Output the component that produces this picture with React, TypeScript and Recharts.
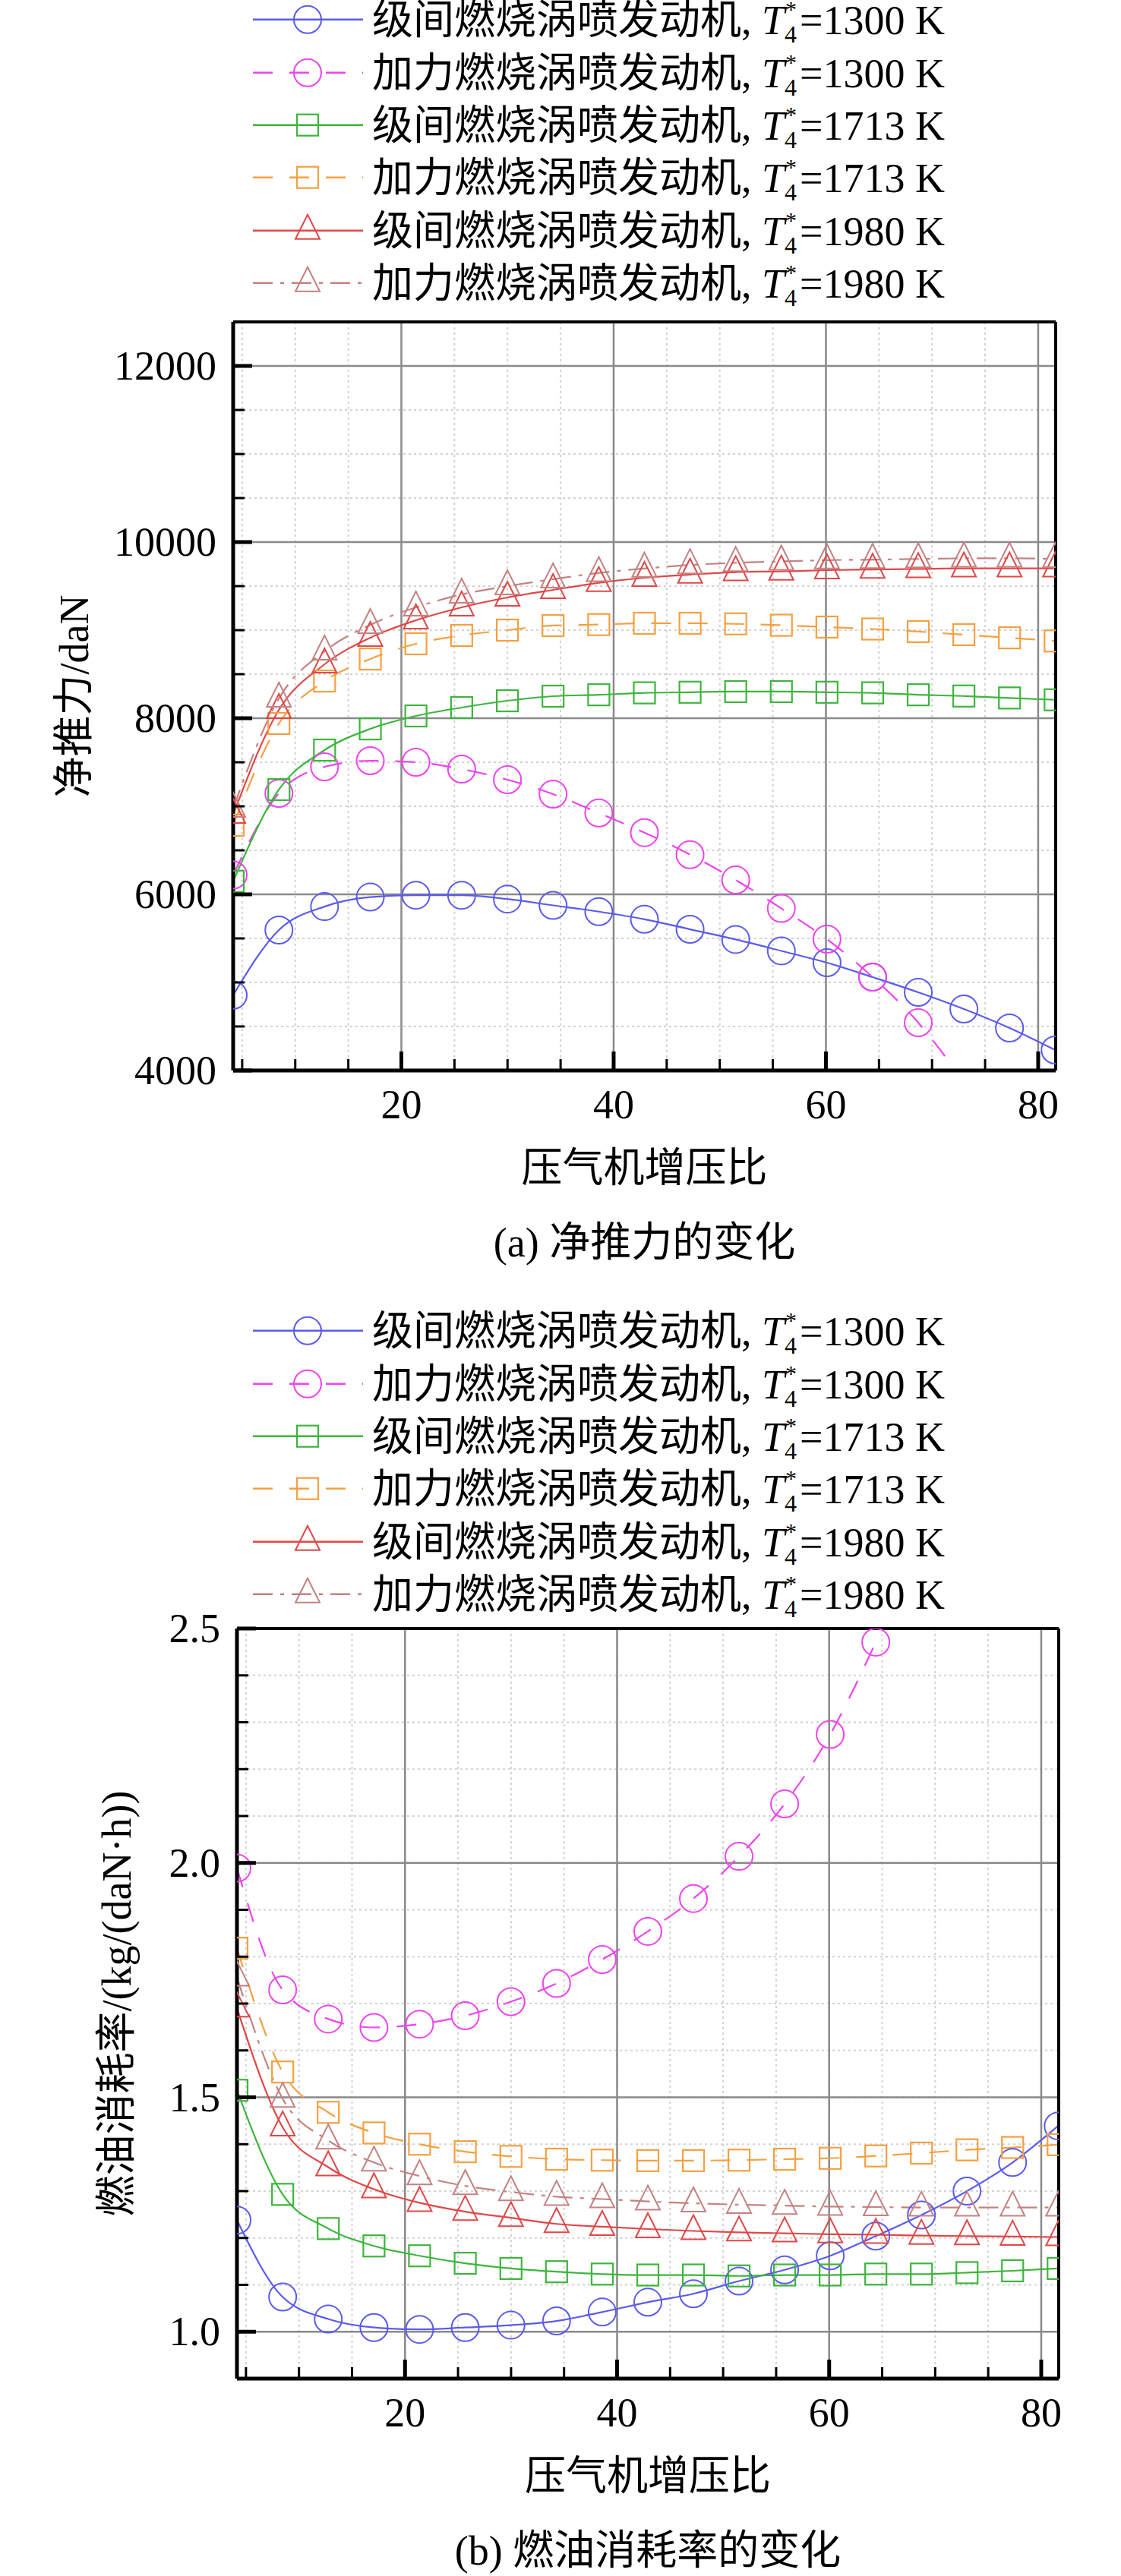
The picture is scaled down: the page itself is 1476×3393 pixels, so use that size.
import React from 'react';
import { LineChart, Line, XAxis, YAxis, CartesianGrid, Legend } from 'recharts';

// compressor pressure ratio (x of every point)
const pressureRatio = [4.15, 8.46, 12.76, 17.07, 21.37, 25.68, 29.99, 34.29, 38.6, 42.9, 47.2, 51.5, 55.8, 60.1, 64.4, 68.7, 73.0, 77.3, 81.6];

// (a) net thrust, daN
const thrustInter1300 = [4856, 5595, 5861, 5969, 5990, 5990, 5947, 5875, 5804, 5717, 5603, 5488, 5358, 5224, 5060, 4888, 4698, 4483, 4233];
const thrustAb1300 = [6220, 7147, 7448, 7517, 7500, 7422, 7302, 7138, 6924, 6701, 6450, 6163, 5840, 5491, 5060, 4543, 3870];
const thrustInter1713 = [6148, 7190, 7638, 7879, 8026, 8121, 8198, 8250, 8266, 8288, 8295, 8302, 8302, 8295, 8288, 8266, 8252, 8230, 8209];
const thrustAb1713 = [6785, 7940, 8422, 8672, 8845, 8940, 9000, 9052, 9063, 9078, 9078, 9071, 9056, 9035, 9013, 8984, 8949, 8913, 8877];
const thrustInter1980 = [6905, 8095, 8612, 8914, 9112, 9259, 9371, 9457, 9537, 9595, 9631, 9659, 9667, 9681, 9688, 9695, 9702, 9702, 9702];
const thrustAb1980 = [6974, 8224, 8759, 9060, 9259, 9405, 9500, 9578, 9650, 9700, 9740, 9765, 9780, 9795, 9800, 9808, 9815, 9815, 9810];

// (b) specific fuel consumption, kg/(daN·h)
const sfcInter1300 = [1.238, 1.074, 1.027, 1.009, 1.005, 1.009, 1.014, 1.023, 1.042, 1.063, 1.081, 1.108, 1.132, 1.162, 1.204, 1.249, 1.3, 1.361, 1.439];
const sfcAb1300 = [1.989, 1.729, 1.667, 1.649, 1.656, 1.674, 1.704, 1.743, 1.794, 1.854, 1.924, 2.014, 2.126, 2.274, 2.471];
const sfcInter1713 = [1.515, 1.293, 1.22, 1.183, 1.162, 1.146, 1.135, 1.128, 1.123, 1.121, 1.121, 1.119, 1.121, 1.121, 1.123, 1.123, 1.126, 1.13, 1.135];
const sfcAb1713 = [1.818, 1.554, 1.468, 1.424, 1.4, 1.384, 1.374, 1.368, 1.366, 1.365, 1.365, 1.366, 1.368, 1.37, 1.375, 1.381, 1.388, 1.393, 1.399];
const sfcInter1980 = [1.69, 1.436, 1.351, 1.304, 1.275, 1.256, 1.243, 1.23, 1.224, 1.219, 1.215, 1.212, 1.21, 1.208, 1.207, 1.205, 1.204, 1.203, 1.202];
const sfcAb1980 = [1.756, 1.497, 1.408, 1.361, 1.332, 1.311, 1.298, 1.288, 1.283, 1.278, 1.274, 1.271, 1.269, 1.267, 1.266, 1.265, 1.265, 1.265, 1.265];

// ticks
const xMinorTicks = [5, 10, 15, 20, 25, 30, 35, 40, 45, 50, 55, 60, 65, 70, 75, 80];
const xMajorTicks = [20, 40, 60, 80];
const thrustMinorTicks = [4000, 4500, 5000, 5500, 6000, 6500, 7000, 7500, 8000, 8500, 9000, 9500, 10000, 10500, 11000, 11500, 12000];
const thrustMajorTicks = [4000, 6000, 8000, 10000, 12000];
const sfcMinorTicks = [0.9, 1.0, 1.1, 1.2, 1.3, 1.4, 1.5, 1.6, 1.7, 1.8, 1.9, 2.0, 2.1, 2.2, 2.3, 2.4, 2.5];
const sfcMajorTicks = [1.0, 1.5, 2.0, 2.5];

const seriesNames = ['级间燃烧涡喷发动机', '加力燃烧涡喷发动机', '级间燃烧涡喷发动机', '加力燃烧涡喷发动机', '级间燃烧涡喷发动机', '加力燃烧涡喷发动机'];
const seriesTemps = ['1300', '1300', '1713', '1713', '1980', '1980'];
const seriesKeys = ['inter1300', 'ab1300', 'inter1713', 'ab1713', 'inter1980', 'ab1980'];

const STYLES = [
  { color: '#5b5bef', dash: undefined, shape: 'circle' },
  { color: '#ee44ee', dash: '26 22', shape: 'circle' },
  { color: '#3db53d', dash: undefined, shape: 'square' },
  { color: '#f5a040', dash: '26 22', shape: 'square' },
  { color: '#e04848', dash: undefined, shape: 'triangle' },
  { color: '#c48282', dash: '26 10 5 10', shape: 'triangle' },
];

const FONT = '"Liberation Serif", "Times New Roman", "Noto Sans CJK SC", serif';
const FS = 54;
const X_DOMAIN = [4.15, 81.65];

const buildRows = (cols: number[][]) =>
  pressureRatio.map((p, i) => {
    const row: any = { p };
    seriesKeys.forEach((k, j) => {
      if (cols[j][i] !== undefined) row[k] = cols[j][i];
    });
    return row;
  });

const thrustRows = buildRows([thrustInter1300, thrustAb1300, thrustInter1713, thrustAb1713, thrustInter1980, thrustAb1980]);
const sfcRows = buildRows([sfcInter1300, sfcAb1300, sfcInter1713, sfcAb1713, sfcInter1980, sfcAb1980]);

const Marker = ({ cx, cy, shape, color }: any) => {
  if (shape === 'circle') return <circle cx={cx} cy={cy} r={18} fill="none" stroke={color} strokeWidth={2} />;
  if (shape === 'square') return <rect x={cx - 14} y={cy - 14} width={28} height={28} fill="none" stroke={color} strokeWidth={2.2} />;
  return <polygon points={`${cx},${cy - 21} ${cx - 16},${cy + 11} ${cx + 16},${cy + 11}`} fill="none" stroke={color} strokeWidth={2} />;
};

const makeDot = (shape: string, color: string, min: number, max: number) => (props: any) => {
  const { cx, cy, index, value } = props;
  if (cx == null || cy == null || value == null || value < min || value > max) return <g key={`d${index}`} />;
  return <Marker key={`d${index}`} cx={cx} cy={cy} shape={shape} color={color} />;
};

const XTick = (props: any) => {
  const { x, y, payload } = props;
  const major = xMajorTicks.includes(payload.value);
  return (
    <g>
      <line x1={x} x2={x} y1={y} y2={y - (major ? 25 : 15)} stroke="#000" strokeWidth={major ? 5 : 3} />
      {major && (
        <text x={x} y={y + 45} textAnchor="middle" dominantBaseline="central" fontSize={FS} fontFamily={FONT} fill="#000">
          {payload.value}
        </text>
      )}
    </g>
  );
};

const makeYTick = (majors: number[], fmt: (v: number) => string) => (props: any) => {
  const { x, y, payload } = props;
  const major = majors.some((m) => Math.abs(m - payload.value) < 1e-6);
  return (
    <g>
      <line x1={x} x2={x + (major ? 25 : 15)} y1={y} y2={y} stroke="#000" strokeWidth={major ? 5 : 3} />
      {major && (
        <text x={x - 22} y={y} textAnchor="end" dominantBaseline="central" fontSize={FS} fontFamily={FONT} fill="#000">
          {fmt(payload.value)}
        </text>
      )}
    </g>
  );
};

const XTitle = ({ viewBox, title, caption }: any) => {
  const vb = viewBox || { x: 310, y: 1410, width: 1080 };
  const cx = vb.x + vb.width / 2;
  return (
    <g fontFamily={FONT} fontSize={FS} fill="#000">
      <text x={cx} y={vb.y + 129} textAnchor="middle" dominantBaseline="central">{title}</text>
      <text x={cx} y={vb.y + 227} textAnchor="middle" dominantBaseline="central">{caption}</text>
    </g>
  );
};

const YTitle = ({ viewBox, title, dx }: any) => {
  const vb = viewBox || { x: 310, y: 424, width: 0, height: 986 };
  const cx = vb.x + vb.width - dx;
  const cy = vb.y + vb.height / 2;
  return (
    <text x={cx} y={cy} transform={`rotate(-90 ${cx} ${cy})`} textAnchor="middle" dominantBaseline="central" fontSize={FS} fontFamily={FONT} fill="#000">
      {title}
    </text>
  );
};

const ROW_H = 69.4;

const LegendBox = ({ top }: { top: number }) => (
  <div style={{ position: 'absolute', top, left: 0, width: 1476, fontFamily: FONT, color: '#000' }}>
    {seriesNames.map((name, i) => {
      const s = STYLES[i];
      return (
        <div key={i} style={{ position: 'relative', height: ROW_H }}>
          <svg width={170} height={ROW_H} style={{ position: 'absolute', left: 325, top: 0 }}>
            <line x1={8} x2={153} y1={ROW_H / 2} y2={ROW_H / 2} stroke={s.color} strokeWidth={2.5} strokeDasharray={s.dash} />
            <Marker cx={80} cy={ROW_H / 2} shape={s.shape} color={s.color} />
          </svg>
          <span style={{ position: 'absolute', left: 490, top: 0, fontSize: FS, lineHeight: `${ROW_H}px`, whiteSpace: 'nowrap' }}>
            {name}, <i>T</i>
            <span style={{ position: 'relative', display: 'inline-block', width: 20, height: FS }}>
              <span style={{ position: 'absolute', left: 1, top: 6, fontSize: 30, lineHeight: 1 }}>*</span>
              <span style={{ position: 'absolute', left: 0, top: 38, fontSize: 32, lineHeight: 1 }}>4</span>
            </span>
            ={seriesTemps[i]} K
          </span>
        </div>
      );
    })}
  </div>
);

const Panel = ({ top, height, margin, rows, yDomain, yMinor, yMajor, fmt, yTitle, yTitleDx, xTitle, caption, legendTop }: any) => {
  const YTick = makeYTick(yMajor, fmt);
  return (
    <div style={{ position: 'absolute', top, left: 0, width: 1476, height }}>
      <LineChart width={1476} height={height} data={rows} margin={margin}>
        <Legend
          layout="vertical"
          align="center"
          verticalAlign="middle"
          wrapperStyle={{ top: 0, left: 0, width: 1476, height: 0 }}
          content={() => <LegendBox top={legendTop} />}
        />
        <CartesianGrid xAxisId="x" yAxisId="y" stroke="#d2d2d2" strokeWidth={2} strokeDasharray="3 4" />
        <CartesianGrid xAxisId="x" yAxisId="y" stroke="#8a8a8a" strokeWidth={2.5}
          verticalValues={xMajorTicks} horizontalValues={yMajor} />
        <XAxis xAxisId="x" dataKey="p" type="number" domain={X_DOMAIN} allowDataOverflow ticks={xMinorTicks} interval={0}
          height={1} tickSize={0} tickMargin={0} tickLine={false} tick={<XTick />}
          axisLine={{ stroke: '#000', strokeWidth: 5 }}
          label={<XTitle title={xTitle} caption={caption} />} />
        <XAxis xAxisId="top" orientation="top" type="number" domain={X_DOMAIN} allowDataOverflow height={1}
          tick={false} tickLine={false} axisLine={{ stroke: '#000', strokeWidth: 4 }} />
        <YAxis yAxisId="y" type="number" domain={yDomain} allowDataOverflow ticks={yMinor} interval={0}
          width={1} tickSize={0} tickMargin={0} tickLine={false} tick={<YTick />}
          axisLine={{ stroke: '#000', strokeWidth: 5 }}
          label={<YTitle title={yTitle} dx={yTitleDx} />} />
        <YAxis yAxisId="right" orientation="right" type="number" domain={yDomain} allowDataOverflow width={1}
          tick={false} tickLine={false} axisLine={{ stroke: '#000', strokeWidth: 4 }} />
        {seriesKeys.map((k, i) => (
          <Line
            key={k}
            xAxisId="x"
            yAxisId="y"
            dataKey={k}
            name={seriesNames[i]}
            type="monotone"
            stroke={STYLES[i].color}
            strokeWidth={2.2}
            strokeDasharray={STYLES[i].dash}
            dot={makeDot(STYLES[i].shape, STYLES[i].color, yDomain[0], yDomain[1])}
            activeDot={false}
            isAnimationActive={false}
          />
        ))}
      </LineChart>
    </div>
  );
};

export default function App() {
  return (
    <div style={{ position: 'absolute', top: 0, left: 0, width: 1476, height: 3393, background: '#fff', fontFamily: FONT }}>
      <Panel
        top={0}
        height={1720}
        margin={{ top: 423, right: 85, bottom: 309, left: 306 }}
        rows={thrustRows}
        yDomain={[4000, 12500]}
        yMinor={thrustMinorTicks}
        yMajor={thrustMajorTicks}
        fmt={(v: number) => String(v)}
        yTitle="净推力/daN"
        yTitleDx={209}
        xTitle="压气机增压比"
        caption="(a) 净推力的变化"
        legendTop={-8.7}
      />
      <Panel
        top={1690}
        height={1703}
        margin={{ top: 454, right: 81, bottom: 259, left: 311 }}
        rows={sfcRows}
        yDomain={[0.9, 2.5]}
        yMinor={sfcMinorTicks}
        yMajor={sfcMajorTicks}
        fmt={(v: number) => v.toFixed(1)}
        yTitle="燃油消耗率/(kg/(daN·h))"
        yTitleDx={158}
        xTitle="压气机增压比"
        caption="(b) 燃油消耗率的变化"
        legendTop={28.3}
      />
    </div>
  );
}
